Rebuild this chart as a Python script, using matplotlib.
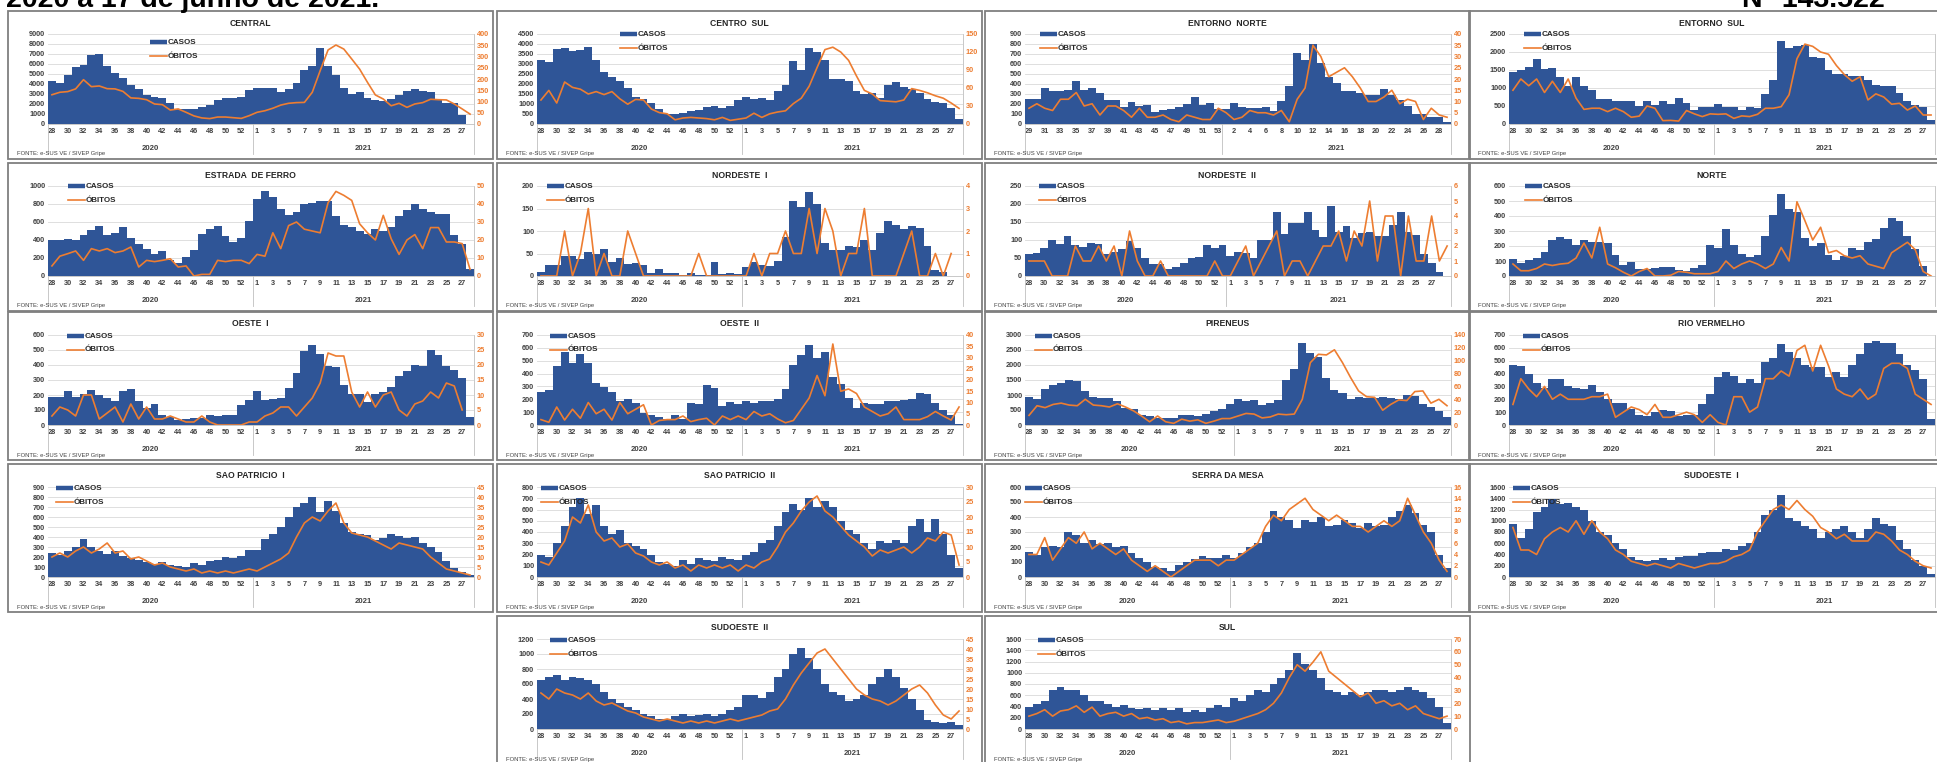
import numpy as np
import matplotlib
matplotlib.use("Agg")
import matplotlib.pyplot as plt
from matplotlib.lines import Line2D
from matplotlib.patches import Rectangle

nan = np.nan

# weekly data from 2020 week 28 (Entorno Norte from week 29)
central_casos = [4300, 4100, 4900, 5700, 5900, 6900, 7000, 5800, 5100, 4600, 3900, 3500, 2900, 2750, 2600, 2100, 1500, 1500, 1500, 1700, 1900, 2400, 2600, 2650, 2700, 3400,
                 3650, 3650, 3600, 3200, 3500, 4100, 5400, 5800, 7600, 5800, 4900, 3600, 3000, 3250, 2600, 2400, 2300, 2500, 2900, 3300, 3500, 3300, 3250, 2400, 2100, 2150, 900, 0]
central_obitos = [130, 141, 144, 156, 197, 166, 169, 157, 156, 145, 116, 114, 108, 89, 86, 62, 67, 52, 36, 27, 24, 31, 31, 28, 25, 37,
                  52, 59, 70, 84, 92, 95, 96, 141, 237, 329, 351, 333, 289, 244, 185, 129, 111, 81, 92, 74, 89, 95, 110, 108, 107, 89, 67, 44]

centro_sul_casos = [3200, 3100, 3750, 3800, 3650, 3700, 3850, 3200, 2600, 2350, 2150, 1800, 1350, 1250, 1050, 750, 500, 500, 550, 650, 700, 850, 900, 800, 900, 1200,
                    1350, 1250, 1300, 1200, 1650, 1950, 3150, 2700, 3800, 3600, 3200, 2250, 2250, 2150, 1650, 1500, 1550, 1300, 1950, 2100, 1850, 1750, 1550, 1250, 1100, 1050, 800, 250]
centro_sul_obitos = [40, 56, 35, 70, 61, 58, 50, 54, 49, 54, 42, 33, 41, 40, 25, 19, 17, 7, 10, 11, 10, 9, 7, 11, 6, 8,
                     10, 18, 11, 17, 20, 22, 34, 43, 63, 94, 124, 128, 120, 106, 80, 56, 50, 39, 38, 37, 40, 59, 56, 52, 47, 43, 35, 26]

entorno_norte_casos = [250, 250, 360, 330, 330, 340, 430, 340, 360, 310, 240, 240, 175, 225, 180, 195, 125, 140, 150, 170, 200, 270, 195, 210, 155,
                       155, 210, 170, 165, 165, 170, 130, 230, 380, 710, 640, 800, 610, 470, 410, 330, 330, 310, 290, 290, 350, 290, 240, 180, 100, 100, 70, 70, 20]
entorno_norte_obitos = [7, 9, 7, 6, 11, 11, 14, 8, 9, 4, 8, 8, 6, 3, 7, 3, 3, 4, 2, 1, 4, 3, 2, 2, 7,
                        5, 2, 3, 6, 5, 5, 4, 6, 1, 11, 16, 35, 30, 21, 23, 25, 21, 16, 10, 10, 12, 15, 9, 11, 10, 2, 7, 4, 3]

entorno_sul_casos = [1450, 1500, 1570, 1800, 1530, 1550, 1300, 1050, 1300, 1050, 950, 700, 700, 650, 630, 650, 500, 630, 530, 650, 550, 730, 580, 400, 460, 480,
                     550, 460, 480, 400, 480, 450, 830, 1220, 2300, 2120, 2170, 2200, 1850, 1820, 1500, 1400, 1380, 1320, 1320, 1220, 1080, 1050, 1060, 850, 640, 520, 470, 120]
entorno_sul_obitos = [15, 20, 17, 20, 14, 19, 14, 20, 11.5, 6.5, 7, 7, 5.5, 7, 5.5, 3, 3.5, 8, 7, 1.5, 1.6, 1.3, 6, 4.5, 3.3, 4.5,
                      4.3, 4.5, 2.5, 3.6, 3.3, 4.3, 7, 7, 7.7, 13, 29, 35.5, 34.5, 32, 31, 26, 22, 19, 21, 10.7, 13.4, 12, 8.8, 9.2, 6.2, 8, 4, 4]

estrada_casos = [400, 400, 410, 400, 455, 510, 560, 460, 475, 540, 420, 360, 300, 245, 275, 175, 140, 215, 290, 465, 520, 555, 440, 375, 420, 610,
                 860, 950, 880, 740, 675, 710, 800, 815, 835, 835, 665, 565, 545, 495, 470, 520, 495, 545, 665, 730, 805, 740, 710, 690, 690, 460, 360, 80]
estrada_obitos = [5.6, 11, 12.4, 13.9, 8.7, 15.2, 13.9, 15.2, 13, 13.9, 16.1, 5, 8.7, 8, 8.7, 9.6, 5, 5.6, 0, 0.9, 0.9, 8.7, 8, 8.7, 8.7, 6.9,
                  12, 11, 24, 15.2, 28, 30, 26, 25, 24, 40.7, 47, 44.8, 42, 29, 24, 20, 33.7, 20.7, 12, 20, 23, 15.2, 26.9, 26.9, 18.9, 18.9, 18, 3.7]

nordeste1_casos = [9, 25, 25, 44, 44, 37, 54, 50, 60, 32, 41, 26, 28, 25, 6, 15, 7, 6, 3, 6, 3, 1.5, 31, 4, 7, 5,
                   21, 31, 25, 23, 34, 86, 167, 154, 187, 160, 74, 58, 57, 66, 65, 79, 57, 95, 123, 114, 104, 112, 106, 66, 13, 9, 1, 0]
nordeste1_obitos = [0, 0, 0, 2, 0, 1, 3, 0, 1, 0, 0, 2, 1, 0, 0, 0, 0, 0, 0, 0, 1, 0, 0, 0, 0, 0,
                    0, 1, 0, 1, 1, 2, 1, 1, 3, 1, 3, 2, 0, 1, 1, 3, 0, 0, 0, 0, 1, 2, 0, 0, 1, 0, 1, nan]

nordeste2_casos = [62, 63, 79, 101, 89, 112, 85, 80, 91, 90, 62, 68, 76, 96, 77, 50, 32, 32, 20, 26, 35, 49, 52, 86, 77, 87,
                   56, 67, 65, 50, 101, 99, 179, 118, 146, 147, 179, 129, 108, 194, 123, 138, 105, 119, 123, 112, 112, 143, 177, 123, 114, 60, 35, 12, 0]
nordeste2_obitos = [1, 1, 1, 0, 0, 0, 2, 1, 1, 2, 1, 2, 0, 3, 1, 0, 0, 1, 0, 0, 0, 0, 0, 0, 1, 0,
                    0, 1, 2, 0, 1, 2, 3, 0, 1, 1, 0, 1, 2, 2, 3, 1, 3, 2, 5, 1, 4, 4, 0, 4, 1, 1, 4, 1, 2]

norte_casos = [115, 90, 110, 120, 160, 240, 260, 245, 210, 240, 225, 225, 220, 140, 75, 95, 50, 50, 55, 58, 60, 40, 35, 55, 75, 205,
               190, 315, 205, 150, 130, 140, 270, 410, 545, 450, 430, 255, 200, 220, 140, 110, 135, 190, 175, 225, 250, 320, 390, 365, 270, 180, 65, 0]
norte_obitos = [8, 3.5, 3.5, 5, 8, 7, 8, 8.5, 12, 22, 12, 32.5, 8, 5.5, 2.5, 0, 3, 5, 0, 0, 0.5, 3, 2.5, 1.5, 1.5, 1.5,
                3, 10, 5, 8, 10, 8, 5, 8, 19, 10, 49.5, 37, 24, 32.5, 15.5, 17, 13.5, 12, 13.5, 8, 6.5, 5, 15.5, 19, 22.5, 17.5, 3, 0]

oeste1_casos = [190, 185, 225, 185, 210, 235, 200, 180, 160, 230, 240, 160, 115, 140, 70, 55, 35, 40, 50, 50, 70, 60, 70, 70, 135, 170,
                230, 165, 175, 180, 250, 345, 495, 530, 470, 390, 385, 265, 210, 210, 155, 205, 220, 255, 325, 360, 400, 390, 500, 465, 395, 365, 310, 55]
oeste1_obitos = [3, 6, 5, 3, 10, 10, 2, 4, 6, 1, 7, 2, 6, 2, 2, 3, 2, 1, 1, 3, 1, 0, 0, 0, 0, 1,
                 1, 3, 4, 6, 6, 3, 6, 9, 14, 24, 23, 23, 11, 6, 11, 6, 10, 11, 5, 3, 7, 8, 11, 9, 14, 13, 5, nan]

oeste2_casos = [260, 270, 455, 570, 480, 550, 480, 325, 295, 260, 185, 200, 170, 95, 80, 65, 45, 75, 50, 170, 160, 310, 285, 145, 180, 165,
                185, 170, 185, 190, 200, 280, 465, 545, 620, 520, 565, 375, 320, 210, 130, 170, 160, 165, 185, 190, 195, 205, 250, 245, 170, 115, 80, 10]
oeste2_obitos = [2.4, 1.2, 8, 2.2, 7, 3, 10, 5, 7, 2.2, 10, 5, 7, 9, 0, 2, 2.4, 2.4, 4, 1.5, 2.4, 3, 0, 4, 2.4, 4,
                 2.4, 6, 4, 5, 2.7, 1, 2, 7, 12, 22, 13, 36, 15, 16, 14, 8, 6, 4, 5, 8, 2.4, 2.4, 2.4, 3.7, 6, 4, 2.2, 8]

pireneus_casos = [930, 860, 1200, 1330, 1400, 1500, 1480, 1150, 930, 900, 900, 800, 580, 520, 320, 300, 245, 235, 250, 330, 330, 300, 370, 480, 530, 710,
                  880, 800, 830, 670, 750, 840, 1500, 1860, 2720, 2400, 2250, 1570, 1170, 1060, 860, 920, 890, 890, 930, 890, 860, 990, 960, 690, 590, 460, 260]
pireneus_obitos = [15, 30, 27, 32, 34, 31, 30, 40, 31, 30, 28, 33, 28, 22, 14, 5, 14, 5, 2.6, 9, 6, 8, 2.6, 6, 10, 10,
                   14, 18, 17, 11, 12.5, 17, 16, 17, 40, 97, 110, 109, 117, 97, 74, 53, 44, 43, 23, 32, 39, 38, 52, 53, 34, 40, 30]

rio_vermelho_casos = [465, 455, 400, 330, 285, 360, 355, 305, 290, 280, 310, 255, 200, 170, 170, 125, 80, 70, 100, 120, 110, 70, 80, 80, 160, 240,
                      375, 410, 385, 330, 360, 330, 490, 520, 630, 570, 520, 465, 450, 450, 375, 410, 375, 465, 550, 640, 650, 640, 640, 555, 465, 425, 360, 50]
rio_vermelho_obitos = [8, 18, 14, 11, 15, 10, 12, 10, 10, 10, 11, 11, 12, 3, 5, 7, 6, 4, 8, 3, 3, 4, 5, 4, 1, 4,
                       1, 0, 11, 11, 5, 7, 18, 18, 21, 19, 29, 31, 21, 31, 23, 14, 12, 11, 14, 10, 12, 22, 24, 24, 22, 12, 10, 8]

sao_patricio1_casos = [240, 220, 260, 300, 380, 300, 260, 230, 260, 210, 190, 170, 150, 130, 150, 120, 110, 100, 140, 120, 160, 170, 200, 190, 210, 270,
                       270, 380, 430, 500, 600, 700, 740, 800, 650, 760, 660, 540, 450, 430, 420, 370, 390, 430, 410, 390, 400, 340, 300, 250, 160, 90, 50, 20]
sao_patricio1_obitos = [10, 12, 10, 13, 15, 12, 14, 17, 12, 13, 9, 10, 8, 6, 7, 5, 4, 3, 4, 2, 3, 2, 3, 2, 3, 4,
                        3, 5, 7, 9, 12, 20, 27, 30, 28, 33, 37, 27, 22, 21, 20, 18, 16, 14, 17, 16, 15, 14, 10, 7, 4, 3, 2, 1]

sao_patricio2_casos = [200, 180, 300, 450, 620, 700, 560, 640, 450, 380, 420, 300, 280, 250, 200, 130, 120, 100, 150, 120, 170, 150, 140, 180, 160, 150,
                       200, 220, 300, 330, 450, 580, 650, 600, 700, 620, 680, 620, 500, 420, 380, 300, 250, 320, 300, 330, 300, 450, 520, 400, 520, 380, 200, 80]
sao_patricio2_obitos = [5, 4, 8, 12, 20, 18, 24, 15, 12, 13, 10, 11, 8, 7, 5, 4, 5, 3, 4, 2, 4, 3, 4, 3, 4, 2,
                        4, 3, 5, 6, 10, 15, 18, 22, 25, 27, 22, 20, 17, 14, 12, 10, 7, 9, 8, 9, 10, 8, 10, 13, 12, 15, 14, 4]

serra_casos = [170, 150, 200, 210, 200, 300, 280, 230, 250, 220, 230, 200, 210, 160, 130, 100, 70, 60, 40, 80, 100, 120, 140, 130, 130, 150,
               130, 160, 200, 230, 300, 440, 400, 380, 330, 380, 370, 400, 340, 350, 380, 360, 330, 360, 340, 350, 400, 440, 480, 430, 350, 300, 150, 60]
serra_obitos = [4, 4, 7, 3, 5, 7, 6, 8, 5, 6, 5, 4, 5, 3, 2, 1, 2, 1, 0, 1, 2, 3, 3, 3, 2, 3,
                3, 4, 5, 6, 9, 11, 10, 12, 13, 14, 12, 11, 10, 11, 10, 9, 9, 8, 9, 10, 9, 10, 14, 11, 8, 6, 3, 1]

sudoeste1_casos = [950, 700, 850, 1150, 1250, 1380, 1300, 1320, 1250, 1200, 1000, 800, 750, 600, 500, 350, 300, 280, 300, 330, 300, 350, 380, 380, 420, 450,
                   450, 500, 480, 550, 600, 800, 1100, 1200, 1450, 1050, 1000, 900, 850, 700, 800, 850, 900, 800, 700, 850, 1050, 950, 900, 650, 500, 300, 200, 50]
sudoeste1_obitos = [22, 12, 12, 10, 17, 20, 22, 20, 25, 19, 25, 20, 17, 12, 10, 7, 6, 5, 6, 5, 4, 6, 5, 4, 5, 6,
                    6, 7, 9, 10, 12, 20, 25, 30, 32, 30, 34, 30, 27, 22, 20, 17, 19, 16, 16, 16, 20, 19, 16, 12, 10, 7, 5, 4]

sudoeste2_casos = [650, 700, 720, 650, 700, 680, 650, 600, 500, 400, 350, 300, 250, 200, 170, 130, 140, 180, 200, 180, 190, 200, 170, 200, 250, 300,
                   450, 450, 420, 500, 700, 800, 1000, 1080, 950, 800, 600, 500, 450, 380, 400, 450, 600, 700, 800, 700, 550, 400, 250, 120, 100, 80, 100, 60]
sudoeste2_obitos = [18, 15, 20, 18, 17, 15, 18, 14, 12, 13, 11, 9, 8, 6, 5, 4, 5, 4, 3, 4, 3, 4, 3, 4, 5, 4,
                    5, 6, 7, 9, 10, 15, 22, 28, 33, 38, 40, 35, 30, 25, 20, 17, 15, 14, 12, 14, 17, 20, 22, 18, 12, 7, 5, 9]

sul_casos = [400, 450, 500, 700, 750, 700, 700, 600, 500, 500, 450, 400, 420, 380, 350, 380, 330, 380, 330, 380, 300, 330, 300, 380, 420, 400,
             550, 500, 600, 700, 650, 800, 900, 1050, 1350, 1150, 1050, 900, 700, 650, 600, 650, 600, 650, 700, 700, 650, 700, 750, 700, 650, 550, 400, 100]
sul_obitos = [10, 12, 15, 10, 14, 15, 18, 13, 17, 10, 12, 13, 10, 12, 8, 9, 7, 8, 5, 6, 4, 5, 5, 6, 7, 5,
              6, 8, 10, 12, 15, 20, 28, 40, 50, 45, 52, 60, 45, 40, 35, 30, 25, 28, 20, 22, 18, 20, 15, 18, 12, 10, 8, 10]

W, H = 1937, 762
BLUE = '#2F5597'
ORANGE = '#ED7D31'
GRAY = '#BFBFBF'
TXT = '#404040'
TICK_FS = 5.3

plt.rcParams['font.family'] = ['Liberation Sans', 'DejaVu Sans']
fig = plt.figure(figsize=(W / 100, H / 100), dpi=100)


def fx(px):
    return px / W


def fy(py):
    return 1 - py / H


COLS = [8, 497, 985, 1469]
ROWS = [11, 163, 312, 464, 616]
PW, PH = 485, 148


def draw_panel(col, row, title, casos, obitos, ymax, ystep, y2max, y2step,
               start=28, leg=(55, 23), year2020=True, right_labels=True):
    x0, y0 = COLS[col], ROWS[row]
    fig.add_artist(Rectangle((fx(x0), fy(y0 + PH)), PW / W, PH / H, transform=fig.transFigure,
                             fill=False, ec='#7F7F7F', lw=1.3))
    fig.text(fx(x0 + PW / 2), fy(y0 + 12), title, ha='center', va='center',
             fontsize=6.2, fontweight='bold', color='#262626')

    ax = fig.add_axes([fx(x0 + 40), fy(y0 + 113), 426 / W, 90 / H])
    n = len(casos)
    x = np.arange(n)
    ax.bar(x, casos, width=1.0, color=BLUE, lw=0, zorder=2)
    ax.set_xlim(-0.5, n - 0.5)
    ax.set_ylim(0, ymax)
    ax.set_yticks(np.arange(0, ymax + ystep / 2, ystep))
    ax.yaxis.grid(True, color='#D9D9D9', lw=0.6)
    ax.set_axisbelow(True)

    n20 = 54 - start
    weeks = list(range(start, 54)) + list(range(1, n - n20 + 1))
    ticks = [i for i in x[::2] if i < 53]
    ax.set_xticks(ticks)
    ax.set_xticklabels([str(weeks[i]) for i in ticks])
    ax.tick_params(axis='both', length=0, labelsize=TICK_FS, labelcolor=TXT)
    ax.tick_params(axis='x', pad=3)
    ax.tick_params(axis='y', pad=2)
    for lab in ax.get_xticklabels() + ax.get_yticklabels():
        lab.set_fontweight('bold')
    for s in ['top', 'left', 'right']:
        ax.spines[s].set_visible(False)
    ax.spines['bottom'].set_color(GRAY)
    ax.spines['bottom'].set_linewidth(0.6)

    # year separators below the axis
    sep = n20 - 0.5
    tr = ax.get_xaxis_transform()
    for xs in (-0.5, sep, n - 0.5):
        ax.plot([xs, xs], [0, -0.33], transform=tr, color=GRAY, lw=0.6, clip_on=False)
    if year2020:
        ax.text((sep - 0.5) / 2, -0.27, '2020', transform=tr, ha='center', va='center',
                fontsize=5.6, fontweight='bold', color=TXT)
    ax.text((sep + n - 0.5) / 2, -0.27, '2021', transform=tr, ha='center', va='center',
            fontsize=5.6, fontweight='bold', color=TXT)

    ax2 = ax.twinx()
    ax2.plot(np.arange(len(obitos)), obitos, color=ORANGE, lw=1.2)
    ax2.set_xlim(-0.5, n - 0.5)
    ax2.set_ylim(0, y2max)
    ax2.set_yticks(np.arange(0, y2max + y2step / 2, y2step))
    ax2.tick_params(axis='y', length=0, labelsize=TICK_FS, labelcolor=ORANGE, pad=2,
                    labelright=right_labels)
    for lab in ax2.get_yticklabels():
        lab.set_fontweight('bold')
    for s in ['top', 'left', 'bottom']:
        ax2.spines[s].set_visible(False)
    ax2.spines['right'].set_color(GRAY)
    ax2.spines['right'].set_linewidth(0.6)

    # legend
    lx, ly = x0 + leg[0], y0 + leg[1]
    fig.add_artist(Line2D([fx(lx), fx(lx + 17)], [fy(ly), fy(ly)], transform=fig.transFigure,
                          color=BLUE, lw=3.2, solid_capstyle='butt'))
    fig.text(fx(lx + 18), fy(ly), 'CASOS', va='center', fontsize=5.8, fontweight='bold', color='#262626')
    fig.add_artist(Line2D([fx(lx), fx(lx + 17)], [fy(ly + 14), fy(ly + 14)], transform=fig.transFigure,
                          color=ORANGE, lw=1.2))
    fig.text(fx(lx + 18), fy(ly + 14), 'ÓBITOS', va='center', fontsize=5.8, fontweight='bold', color='#262626')

    fig.text(fx(x0 + 9), fy(y0 + 143), 'FONTE: e-SUS VE / SIVEP Gripe', va='center',
             fontsize=4.2, color='#404040')


draw_panel(0, 0, 'CENTRAL', central_casos, central_obitos, 9000, 1000, 400, 50, leg=(142, 31))
draw_panel(1, 0, 'CENTRO  SUL', centro_sul_casos, centro_sul_obitos, 4500, 500, 150, 30, leg=(123, 23))
draw_panel(2, 0, 'ENTORNO  NORTE', entorno_norte_casos, entorno_norte_obitos, 900, 100, 40, 5,
           start=29, leg=(55, 23), year2020=False)
draw_panel(3, 0, 'ENTORNO  SUL', entorno_sul_casos, entorno_sul_obitos, 2500, 500, 40, 5,
           leg=(55, 23), right_labels=False)

draw_panel(0, 1, 'ESTRADA  DE FERRO', estrada_casos, estrada_obitos, 1000, 200, 50, 10, leg=(60, 23))
draw_panel(1, 1, 'NORDESTE  I', nordeste1_casos, nordeste1_obitos, 200, 50, 4, 1, leg=(50, 23))
draw_panel(2, 1, 'NORDESTE  II', nordeste2_casos, nordeste2_obitos, 250, 50, 6, 1, leg=(54, 23))
draw_panel(3, 1, 'NORTE', norte_casos, norte_obitos, 600, 100, 60, 10, leg=(56, 23), right_labels=False)

draw_panel(0, 2, 'OESTE  I', oeste1_casos, oeste1_obitos, 600, 100, 30, 5, leg=(59, 24))
draw_panel(1, 2, 'OESTE  II', oeste2_casos, oeste2_obitos, 700, 100, 40, 5, leg=(53, 24))
draw_panel(2, 2, 'PIRENEUS', pireneus_casos, pireneus_obitos, 3000, 500, 140, 20, leg=(50, 24))
draw_panel(3, 2, 'RIO VERMELHO', rio_vermelho_casos, rio_vermelho_obitos, 700, 100, 35, 5,
           leg=(54, 24), right_labels=False)

draw_panel(0, 3, 'SAO PATRICIO  I', sao_patricio1_casos, sao_patricio1_obitos, 900, 100, 45, 5, leg=(48, 24))
draw_panel(1, 3, 'SAO PATRICIO  II', sao_patricio2_casos, sao_patricio2_obitos, 800, 100, 30, 5, leg=(44, 24))
draw_panel(2, 3, 'SERRA DA MESA', serra_casos, serra_obitos, 600, 100, 16, 2, leg=(40, 24))
draw_panel(3, 3, 'SUDOESTE  I', sudoeste1_casos, sudoeste1_obitos, 1600, 200, 40, 5,
           leg=(44, 24), right_labels=False)

draw_panel(1, 4, 'SUDOESTE  II', sudoeste2_casos, sudoeste2_obitos, 1200, 200, 45, 5, leg=(53, 24))
draw_panel(2, 4, 'SUL', sul_casos, sul_obitos, 1600, 200, 70, 10, leg=(53, 24))

# page header, partly cut at the top edge
fig.text(fx(6), fy(7), '2020 a 17 de junho de 2021.', fontsize=20.5, fontweight='bold', va='baseline')
fig.text(fx(1885), fy(7), 'N° 143.522', fontsize=20.5, fontweight='bold', va='baseline', ha='right')

fig.savefig('out.png', dpi=100)
